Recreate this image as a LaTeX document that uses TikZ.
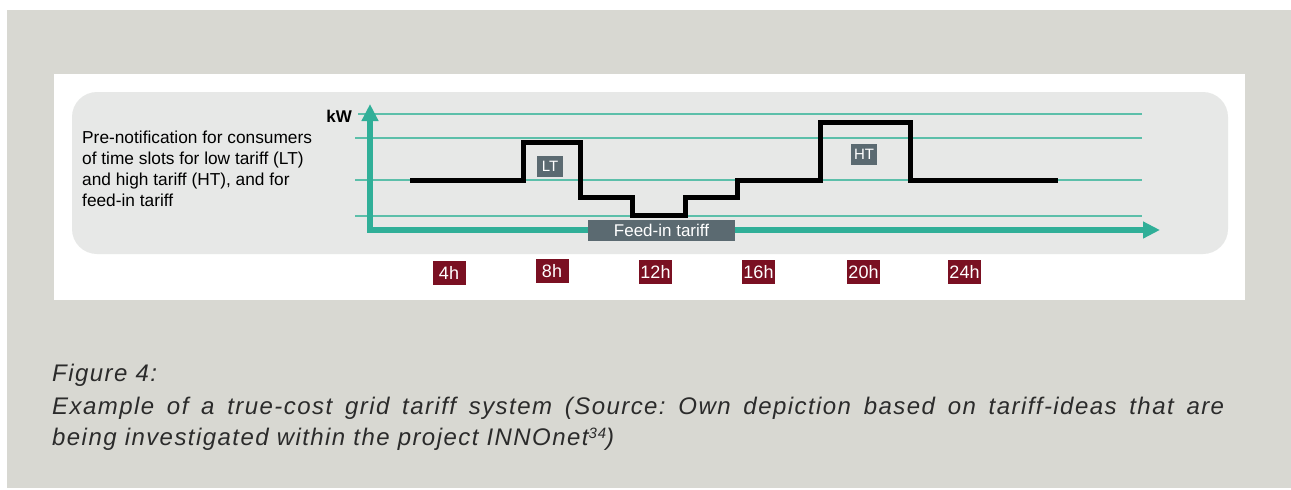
\documentclass[tikz,border=0pt]{standalone}
\usepackage{fontspec}
\setmainfont{Liberation Sans}
\newfontfamily\capfont[LetterSpace=6]{Liberation Sans}
\usepackage{xcolor}
\usepackage{tikz}
\usetikzlibrary{arrows.meta}
\definecolor{panelgrey}{HTML}{D8D8D2}
\definecolor{boxgrey}{HTML}{E7E8E7}
\definecolor{axisgreen}{HTML}{30AF98}
\definecolor{gridgreen}{HTML}{5CBFAA}
\definecolor{labelgrey}{HTML}{5B6A71}
\definecolor{hourred}{HTML}{7A1022}
\definecolor{captext}{HTML}{2B2B2B}
\frenchspacing
\tikzset{hour node/.style={fill=hourred,text=white,minimum width=33pt,minimum height=24pt,inner sep=0pt,font=\fontsize{18}{18}\selectfont},
  tariff node/.style={fill=labelgrey,text=white,minimum width=26pt,minimum height=21pt,inner sep=0pt,font=\fontsize{15}{15}\selectfont},
  grid line/.style={draw=gridgreen,line width=1.5pt},
  axis line/.style={draw=axisgreen,line width=6pt,line join=miter,{Triangle[width=16pt,length=17pt]}-{Triangle[width=16pt,length=17pt]}},
  load line/.style={draw=black,line width=5pt,line join=miter},
  caption/.style={anchor=base west,inner sep=0pt,text=captext,font=\capfont\itshape\fontsize{24}{24}\selectfont},}

\begin{document}
\begin{tikzpicture}[x=1pt,y=-1pt]
	\useasboundingbox (0,0) rectangle (1291,490);

	% panels
	\fill[panelgrey] (7,10) rectangle (1291,488);
	\fill[white] (54,74) rectangle (1245,300);
	\fill[boxgrey,rounded corners=25pt] (72,92) rectangle (1228,254);

	\node[anchor=north west,inner sep=0pt,align=left,font=\fontsize{17.3}{21}\selectfont] (note) at (82,131)
	{Pre-notification for consumers\\of time slots for low tariff (LT)\\and high tariff (HT), and for\\feed-in tariff};

	% levels
	\foreach \y/\x in {114/358,138/355,180/355,216/355}
	  \draw[grid line] (\x,\y) -- (1142,\y);

	% axes
	\coordinate (origin) at (370,230);
	\coordinate (ytip) at (370,104);
	\coordinate (xtip) at (1160,230);
	\draw[axis line] (ytip) -- (origin) -- (xtip);
	\node[anchor=east,inner sep=0pt,font=\bfseries\fontsize{17}{17}\selectfont] (kw) at (352,116) {kW};

	% load over the day
	\draw[load line] (410,180) -- (523,180) |- (580,142) |- (632,197) |- (685,215)
	  |- (737,197) |- (820,180) |- (910,122) |- (1058,180);

	\node[tariff node] (lt) at (550,166.5) {LT};
	\node[tariff node] (ht) at (864,154.5) {HT};
	\node[tariff node,minimum width=147pt,font=\fontsize{17}{17}\selectfont] (feed) at (661.5,230.5) {Feed-in tariff};

	% hours
	\node[hour node] (h4) at (449,273) {4h};
	\node[hour node] (h8) at (552,271) {8h};
	\node[hour node] (h12) at (655.5,272) {12h};
	\node[hour node] (h16) at (758.5,272) {16h};
	\node[hour node] (h20) at (863.5,272) {20h};
	\node[hour node] (h24) at (964.5,272) {24h};

	% caption
	\node[caption] (fig) at (52,381) {Figure 4:};
	\node[caption] (cap1) at (52,414) {\makebox[1172pt][s]{Example of a true-cost grid tariff system (Source: Own depiction based on tariff-ideas that are}};
	\node[caption] (cap2) at (52,445) {being investigated within the project INNOnet{\fontsize{15}{15}\selectfont\raisebox{7pt}{34}})};
\end{tikzpicture}
\end{document}
